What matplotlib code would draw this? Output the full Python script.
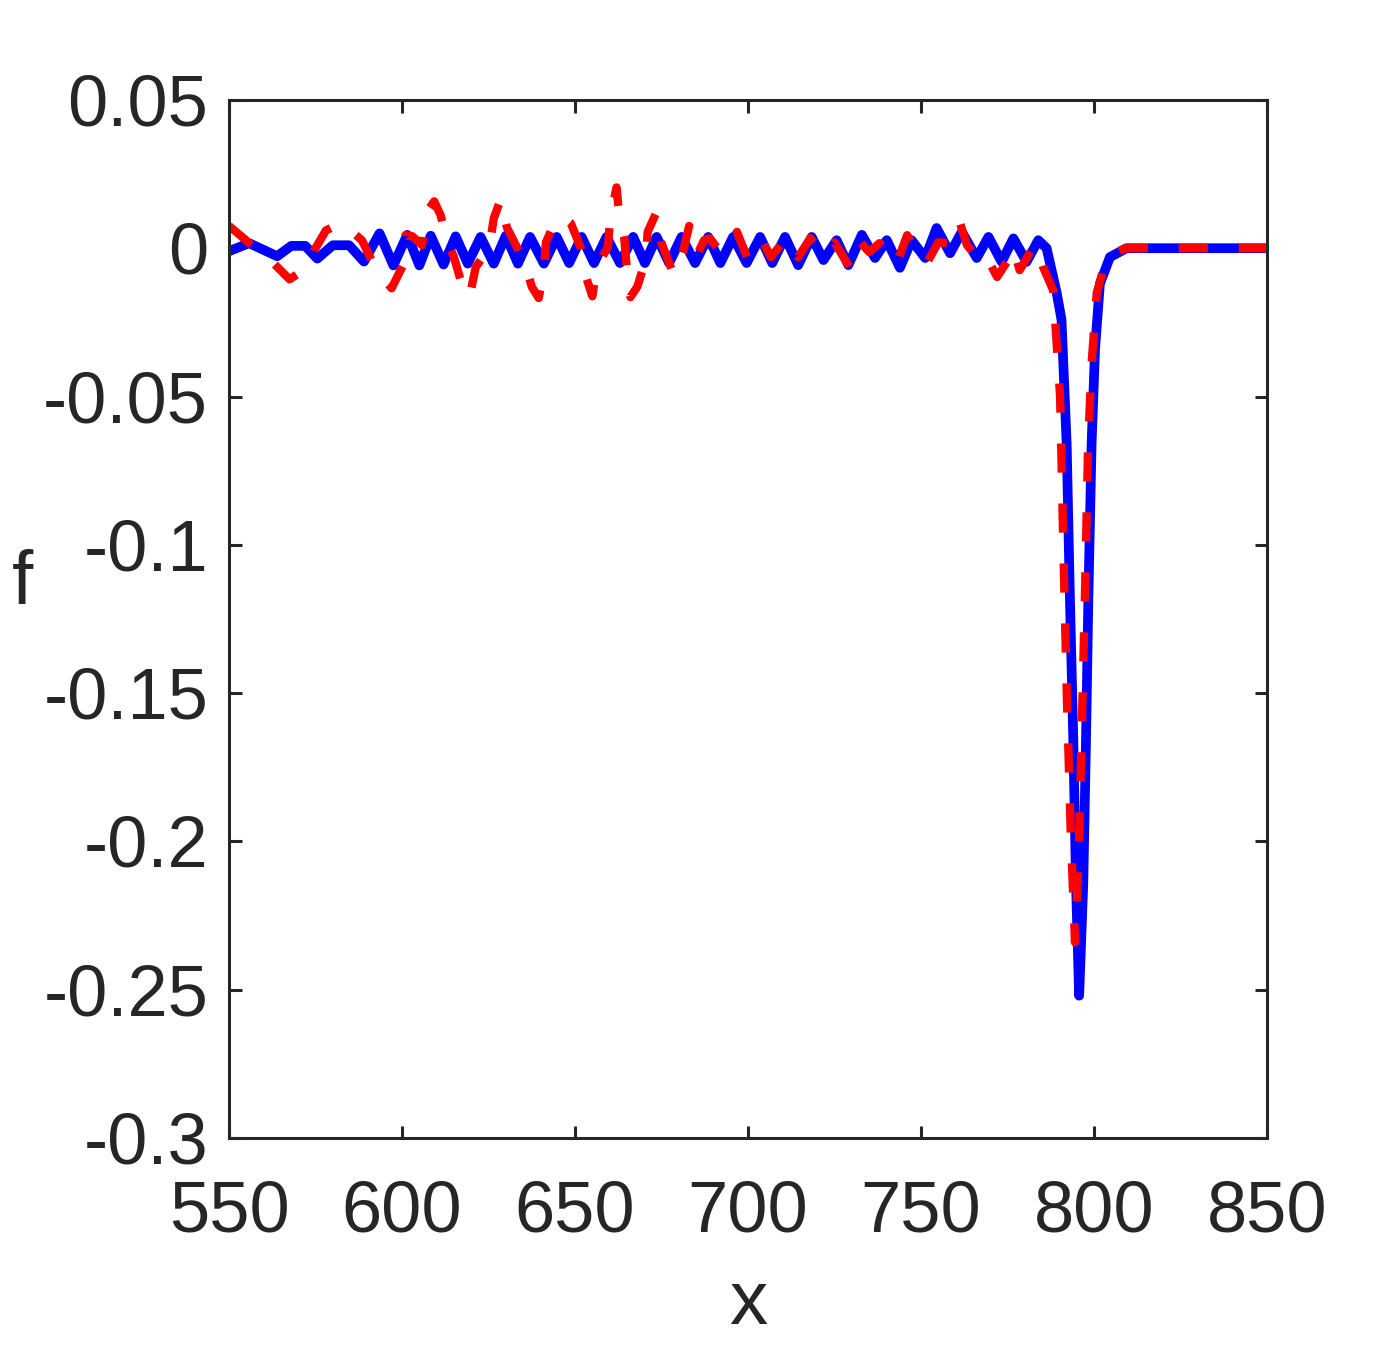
import matplotlib
matplotlib.use('Agg')
import matplotlib.pyplot as plt
import matplotlib.transforms as mtransforms
import numpy as np

plt.rcParams['font.family'] = ['Liberation Sans', 'DejaVu Sans']

# blue solid curve
x_blue = [550, 555.8, 563.9, 568, 572, 575.5, 580, 584.7, 589,
          593.5, 597.5, 601.5, 605, 608.3, 612, 615.5, 619, 622.7, 626.5,
          630.0, 633.5, 637.0, 641, 644.7, 648.3, 651.9, 655.5, 659.1, 663,
          666.8, 670.2, 673.6, 677.2, 680.8, 684.7, 688.5, 692, 695.7, 699.6,
          703.5, 707, 710.7, 714.5, 718.4, 721.8, 725.6, 729.0, 732.9, 736.7,
          740.1, 743.9, 747.3, 751.2, 754.5, 758.4, 761.8, 766.1, 769.5, 773.3,
          776.7, 780.5, 783.9, 786.3, 789.2, 790.6, 792.1, 793.0, 794.0, 794.8,
          795.7, 796.9, 797.7, 798.4, 799.3, 800.3, 801.7, 804.6, 809.4, 850]
f_blue = [-0.001, 0.0017, -0.0027, 0.0008, 0.0008, -0.0035, 0.001, 0.001, -0.0045,
          0.005, -0.0058, 0.0045, -0.0058, 0.0042, -0.0055, 0.004, -0.0052, 0.0038, -0.0052,
          0.0042, -0.0052, 0.0038, -0.0052, 0.0038, -0.005, 0.0038, -0.005, 0.0038, -0.005,
          0.0038, -0.005, 0.0038, -0.005, 0.0038, -0.005, 0.0038, -0.005, 0.0038, -0.005,
          0.0038, -0.005, 0.0038, -0.0057, 0.0038, -0.004, 0.0027, -0.0057, 0.0045, -0.0033,
          0.0027, -0.0066, 0.0027, -0.0033, 0.0068, -0.0017, 0.0055, -0.0033, 0.0038, -0.0046,
          0.0033, -0.0046, 0.0027, 0.0, -0.015, -0.024, -0.066, -0.116, -0.165, -0.214,
          -0.252, -0.214, -0.165, -0.116, -0.066, -0.034, -0.012, -0.003, 0.0, 0.0]

# red dashed curve
x_red = [550, 554.6, 558, 562.8, 567.5, 572.8, 575, 578, 582.5, 588.4,
         592.8, 597, 600.3, 601, 603, 605.8, 607, 609.3, 611.2, 612.7,
         615, 617, 619.5, 621.3, 625.2, 626.5, 628.5, 630.3, 633.2, 635.5,
         637.5, 639.5, 641, 641.6, 644.4, 646, 648.8, 651.6, 653, 655,
         656.4, 659.5, 660.2, 662, 662.7, 664.2, 665, 666, 668, 670.4,
         671, 673.5, 675, 678, 679.5, 681.3, 683, 685.4, 687.3, 689,
         691.6, 693.5, 696.8, 699.7, 703.7, 706.6, 711, 714.5, 718, 721.5,
         725, 729.5, 732.5, 735, 738, 741, 743, 746, 748.5, 751.7,
         755, 757.5, 761, 763.3, 766.2, 768.5, 772, 775.7, 776.7, 778.5,
         782.4, 783.5, 785.3, 788.2, 790.2, 791.1, 792.1, 793.3, 794.5, 795.5,
         796.4, 797.4, 798.3, 799.3, 800.8, 803.7, 809, 850]
f_red = [0.0075, 0.003, -0.0007, -0.005, -0.0105, -0.0064, 0.0, 0.006, 0.0085, 0.0027,
         -0.008, -0.0135, -0.0057, 0.0044, 0.004, 0.001, 0.012, 0.0158, 0.011, 0.0034,
         -0.003, -0.011, -0.0165, -0.0064, 0.0, 0.01, 0.0165, 0.007, 0.0003, -0.005,
         -0.013, -0.0168, -0.0074, 0.002, 0.0094, 0.011, 0.0084, 0.0003, -0.009, -0.0162,
         -0.0057, 0.0003, 0.0105, 0.0205, 0.012, 0.0038, -0.0074, -0.0165, -0.013, -0.004,
         0.0055, 0.012, 0.0017, -0.0074, -0.0088, -0.0007, 0.0075, -0.002, 0.0027, 0.0033,
         -0.0007, -0.001, 0.0055, -0.003, 0.0034, -0.003, 0.0034, -0.003, 0.0034, -0.002,
         0.002, -0.0067, 0.002, -0.0013, 0.0017, -0.0005, -0.005, 0.0044, -0.0007, -0.005,
         0.002, 0.0017, 0.0095, 0.001, -0.003, -0.002, -0.0097, -0.003, 0.0, -0.0074,
         0.0003, 0.001, -0.0064, -0.0142, -0.05, -0.099, -0.149, -0.198, -0.234, -0.208,
         -0.165, -0.116, -0.066, -0.039, -0.015, -0.003, 0.0, 0.0]

xticks = [550, 600, 650, 700, 750, 800, 850]
yticks = [-0.3, -0.25, -0.2, -0.15, -0.1, -0.05, 0, 0.05]
ytick_labels = ['-0.3', '-0.25', '-0.2', '-0.15', '-0.1', '-0.05', '0', '0.05']

fig = plt.figure(figsize=(14, 13.5), dpi=100)
ax = fig.add_axes([0.1636, 0.157, 0.7414, 0.769])

ax.plot(x_blue, f_blue, color=(0, 0, 1), lw=7, solid_joinstyle='round', solid_capstyle='round')
ax.plot(x_red, f_red, color=(1, 0, 0), lw=6, dashes=(3.5, 3.7), dash_capstyle='butt', dash_joinstyle='round')

ax.set_xlim(550, 850)
ax.set_ylim(-0.3, 0.05)
ax.set_xticks(xticks)
ax.set_xticklabels([str(t) for t in xticks])
ax.set_yticks(yticks)
ax.set_yticklabels(ytick_labels)

dark = '#262626'
for s in ax.spines.values():
    s.set_color(dark)
    s.set_linewidth(2.2)
ax.tick_params(direction='in', length=9, width=2.2, colors=dark, labelsize=52,
               top=True, right=True)
ax.tick_params(axis='x', pad=30)
ax.tick_params(axis='y', pad=15)
# matlab puts the y labels a little below the tick
shift = mtransforms.ScaledTranslation(0, -0.07, fig.dpi_scale_trans)
for lab in ax.get_yticklabels():
    lab.set_va('center')
    lab.set_transform(lab.get_transform() + shift)

ax.set_xlabel('x', fontsize=55, color=dark, labelpad=16)
fig.text(0.016, 0.567, 'f', fontsize=55, color=dark, ha='center', va='center')

fig.savefig('out.png', dpi=100)
